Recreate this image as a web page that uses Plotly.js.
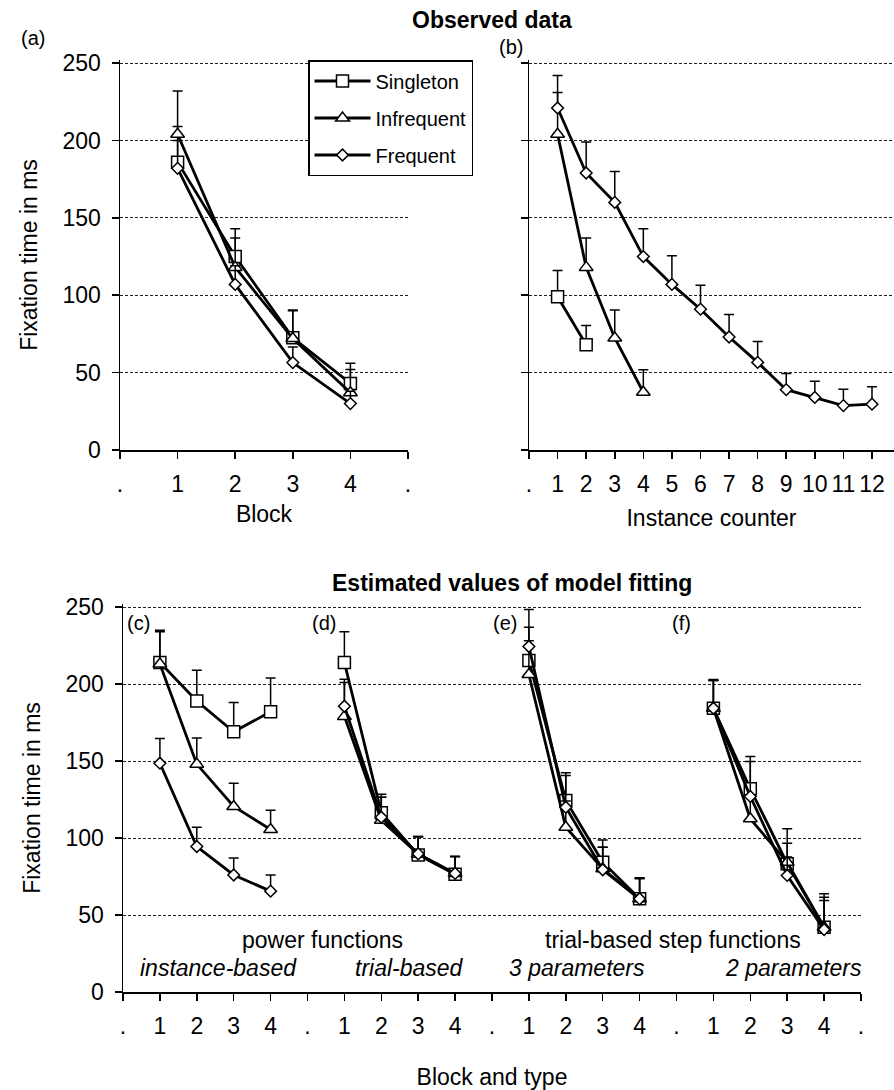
<!DOCTYPE html>
<html><head><meta charset="utf-8">
<script src="https://cdn.plot.ly/plotly-3.0.1.min.js"></script>
<style>html,body{margin:0;padding:0;background:#fff}</style>
</head><body><div id="chart" style="width:894px;height:1090px"></div>
<script>
// ---------- data ----------
const seriesNames = ['Singleton', 'Infrequent', 'Frequent'];
const blocks = [1, 2, 3, 4];
const blockTickVals = [0, 1, 2, 3, 4, 5];
const blockTickText = ['.', '1', '2', '3', '4', '.'];
const instanceTickVals = [0,1,2,3,4,5,6,7,8,9,10,11,12];
const instanceTickText = ['.', '1','2','3','4','5','6','7','8','9','10','11','12'];
const typeTickVals = [0,1,2,3,4,5,6,7,8,9,10,11,12,13,14,15,16,17,18,19,20];
const typeTickText = ['.','1','2','3','4','.','1','2','3','4','.','1','2','3','4','.','1','2','3','4','.'];
const yTickVals = [0, 50, 100, 150, 200, 250];

// (a) observed by block
const aSingleton = [186, 125, 72.5, 43];
const aSingletonErr = [23, 18, 18, 13];
const aInfrequent = [204, 118, 72, 37];
const aInfrequentErr = [28, 19, 18, 15];
const aFrequent = [182, 107, 56.5, 30];
const aFrequentErr = [18, 12, 10, 8];

// (b) observed by instance counter
const bSingletonX = [1, 2];
const bSingleton = [99, 68];
const bSingletonErr = [17, 12.5];
const bInfrequentX = [1, 2, 3, 4];
const bInfrequent = [204, 118, 72.4, 37.3];
const bInfrequentErr = [27, 19, 18, 14.5];
const bFrequentX = [1,2,3,4,5,6,7,8,9,10,11,12];
const bFrequent = [221, 179, 160, 125, 107, 91, 73, 56.6, 39, 34, 28.7, 29.6];
const bFrequentErr = [21, 20, 20, 18, 18.5, 15.5, 14.5, 13.5, 10.5, 10.5, 10.5, 11.3];

// (c)-(f) model estimates by block
const cSingleton = [214, 189, 169, 182];   const cSingletonErr = [21, 20, 19, 22];
const cInfrequent = [213, 148, 120.5, 105.5]; const cInfrequentErr = [21, 17, 15, 12.5];
const cFrequent = [148.6, 94.5, 76, 65.5]; const cFrequentErr = [16, 12.5, 11, 10.5];

const dSingleton = [214, 116.5, 89, 76.5];  const dSingletonErr = [20, 12, 12, 11.5];
const dInfrequent = [179, 111.5, 89.5, 77]; const dInfrequentErr = [22, 15, 11.5, 11];
const dFrequent = [185.6, 113.5, 89.7, 77]; const dFrequentErr = [17.5, 13, 11, 11];

const eSingleton = [215.3, 124.4, 84.3, 60.5]; const eSingletonErr = [21.6, 18, 14.5, 13.7];
const eInfrequent = [206.2, 107, 80, 60.5];    const eInfrequentErr = [22, 17, 14, 13];
const eFrequent = [224.4, 120, 79.4, 60.5];    const eFrequentErr = [24, 20.6, 14.6, 13.5];

const fSingleton = [184.3, 132, 83.3, 42.1];   const fSingletonErr = [18.7, 20.9, 22.7, 21.7];
const fInfrequent = [184.3, 112.5, 84.3, 42.1]; const fInfrequentErr = [18, 15, 12.3, 19.5];
const fFrequent = [184.3, 127, 75.7, 40.5];    const fFrequentErr = [18, 22.7, 12, 19];

// ---------- styling ----------
const FONT = 'Liberation Sans, Arial, sans-serif';
const symbols = {Singleton: 'square', Infrequent: 'triangle-up', Frequent: 'diamond'};
const sizes = {Singleton: 12, Infrequent: 12, Frequent: 9};

function trace(name, x, y, err, xa, ya, showlegend) {
  return {
    type: 'scatter', mode: 'lines+markers', name: name,
    x: x, y: y, xaxis: xa, yaxis: ya,
    showlegend: showlegend, legendgroup: name,
    line: {color: 'black', width: 2.8},
    marker: {symbol: symbols[name], size: sizes[name], color: 'white',
             line: {color: 'black', width: 1.5}},
    error_y: {type: 'data', symmetric: false, array: err,
              arrayminus: err.map(() => 0), color: 'black', thickness: 1.5, width: 5},
    hoverinfo: 'x+y+name'
  };
}

const traces = [];
traces.push(trace('Singleton', blocks, aSingleton, aSingletonErr, 'x', 'y', true));
traces.push(trace('Infrequent', blocks, aInfrequent, aInfrequentErr, 'x', 'y', true));
traces.push(trace('Frequent', blocks, aFrequent, aFrequentErr, 'x', 'y', true));

traces.push(trace('Singleton', bSingletonX, bSingleton, bSingletonErr, 'x2', 'y2', false));
traces.push(trace('Infrequent', bInfrequentX, bInfrequent, bInfrequentErr, 'x2', 'y2', false));
traces.push(trace('Frequent', bFrequentX, bFrequent, bFrequentErr, 'x2', 'y2', false));

const models = [
  {offset: 0,  S: cSingleton, Se: cSingletonErr, I: cInfrequent, Ie: cInfrequentErr, F: cFrequent, Fe: cFrequentErr},
  {offset: 5,  S: dSingleton, Se: dSingletonErr, I: dInfrequent, Ie: dInfrequentErr, F: dFrequent, Fe: dFrequentErr},
  {offset: 10, S: eSingleton, Se: eSingletonErr, I: eInfrequent, Ie: eInfrequentErr, F: eFrequent, Fe: eFrequentErr},
  {offset: 15, S: fSingleton, Se: fSingletonErr, I: fInfrequent, Ie: fInfrequentErr, F: fFrequent, Fe: fFrequentErr}
];
models.forEach(m => {
  const x = blocks.map(b => b + m.offset);
  traces.push(trace('Singleton', x, m.S, m.Se, 'x3', 'y3', false));
  traces.push(trace('Infrequent', x, m.I, m.Ie, 'x3', 'y3', false));
  traces.push(trace('Frequent', x, m.F, m.Fe, 'x3', 'y3', false));
});

// ---------- layout helpers ----------
const W = 894, H = 1090;
const fx = p => p / W;
const fy = p => 1 - p / H;

function xAxis(domain, range, anchor, tv, tt, title, standoff) {
  return {
    domain: domain, range: range, anchor: anchor, tickvals: tv, ticktext: tt,
    ticks: 'outside', ticklen: 7, tickwidth: 1.5, tickcolor: 'black',
    showline: true, linecolor: 'black', linewidth: 1.5,
    showgrid: false, zeroline: false, fixedrange: true,
    tickfont: {family: FONT, size: 23, color: 'black'}, ticklabelstandoff: 6,
    title: {text: title, font: {family: FONT, size: 23, color: 'black'}, standoff: standoff}
  };
}
function yAxis(domain, anchor, labels, title) {
  return {
    domain: domain, range: [0, 252], anchor: anchor, tickvals: yTickVals,
    ticks: 'outside', ticklen: 7, tickwidth: 1.5, tickcolor: 'black',
    showline: true, linecolor: 'black', linewidth: 1.5,
    showgrid: true, gridcolor: '#222', gridwidth: 1, griddash: '3px,2px',
    zeroline: false, fixedrange: true, showticklabels: labels,
    tickfont: {family: FONT, size: 23, color: 'black'}, ticklabelstandoff: 6,
    title: {text: title, font: {family: FONT, size: 23, color: 'black'}, standoff: 18}
  };
}

function note(text, x, y, size, extra) {
  return Object.assign({
    text: text, xref: 'paper', yref: 'paper', x: fx(x), y: fy(y),
    xanchor: 'center', yanchor: 'middle', showarrow: false,
    font: {family: FONT, size: size, color: 'black'}
  }, extra || {});
}

const topDomain = [fy(450), fy(60)];
const botDomain = [fy(992), fy(604)];

const layout = {
  width: W, height: H,
  margin: {l: 0, r: 0, t: 0, b: 0, pad: 0},
  paper_bgcolor: 'white', plot_bgcolor: 'rgba(0,0,0,0)',
  font: {family: FONT, color: 'black'},
  xaxis: xAxis([fx(120), fx(408)], [0, 5], 'y', blockTickVals, blockTickText, 'Block', 10),
  yaxis: yAxis(topDomain, 'x', true, 'Fixation time in ms'),
  xaxis2: xAxis([fx(529), 1], [0, 12.77], 'y2', instanceTickVals, instanceTickText, 'Instance counter', 14),
  yaxis2: yAxis(topDomain, 'x2', false, ''),
  xaxis3: xAxis([fx(123), fx(861)], [0, 20], 'y3', typeTickVals, typeTickText, 'Block and type', 34),
  yaxis3: yAxis(botDomain, 'x3', true, 'Fixation time in ms'),
  showlegend: true,
  legend: {
    x: fx(308), y: fy(60), xanchor: 'left', yanchor: 'top',
    bgcolor: 'white', bordercolor: 'black', borderwidth: 1.5,
    font: {family: FONT, size: 20, color: 'black'},
    itemwidth: 56, tracegroupgap: 8, traceorder: 'grouped',
    itemclick: false, itemdoubleclick: false
  },
  annotations: [
    note('<b>Observed data</b>', 492, 20, 23),
    note('(a)', 33, 38, 20),
    note('(b)', 511, 47, 20),
    note('<b>Estimated values of model fitting</b>', 512, 583, 23),
    note('(c)', 138, 623, 20),
    note('(d)', 324, 623, 20),
    note('(e)', 505, 623, 20),
    note('(f)', 681, 623, 20),
    note('power functions', 322, 940, 23),
    note('<i>instance-based</i>', 218, 968, 23),
    note('<i>trial-based</i>', 409, 968, 23),
    note('trial-based step functions', 673, 940, 23),
    note('<i>3 parameters</i>', 577, 968, 23),
    note('<i>2 parameters</i>', 793, 968, 23)
  ]
};

Plotly.newPlot('chart', traces, layout, {displayModeBar: false, staticPlot: true});
</script>
</body></html>
